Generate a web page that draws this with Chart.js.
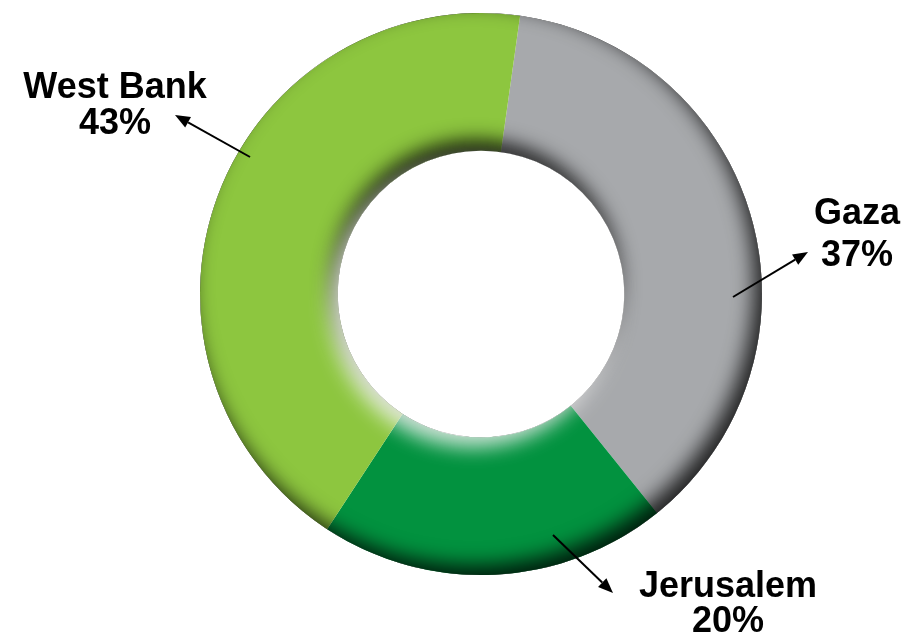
<!DOCTYPE html>
<html>
<head>
<meta charset="utf-8">
<script src="https://cdn.jsdelivr.net/npm/chart.js@4.4.1/dist/chart.umd.min.js"></script>
<style>
  html, body { margin: 0; padding: 0; background: #ffffff; }
  #wrap { width: 909px; height: 641px; position: relative; }
</style>
</head>
<body>
<div id="wrap"><canvas id="c" width="909" height="641"></canvas></div>
<script>
// ---- data ----
const categories = ['Gaza', 'Jerusalem', 'West Bank'];
const shares = [37, 20, 43];
const percentLabels = ['37%', '20%', '43%'];
const sliceColors = ['#a7a9ac', '#02923f', '#8dc63f'];

// ---- annotation layout (label centre, arrow tail, arrow head) ----
const annotations = [
  { idx: 0, x: 857, y1: 214, y2: 256, tail: [733, 297], head: [808, 252] },
  { idx: 1, x: 728, y1: 587, y2: 622, tail: [553, 535], head: [613, 593] },
  { idx: 2, x: 115, y1: 88,  y2: 124, tail: [250, 157], head: [175, 115] }
];

const shadePlugin = {
  id: 'shade',
  afterDatasetsDraw(chart) {
    const arc = chart.getDatasetMeta(0).data[0];
    if (!arc) return;
    const { x, y, innerRadius, outerRadius } = arc.getProps(['x','y','innerRadius','outerRadius'], true);
    const ctx = chart.ctx;
    ctx.save();
    ctx.beginPath();
    ctx.arc(x, y, outerRadius, 0, Math.PI * 2);
    ctx.arc(x, y, innerRadius, 0, Math.PI * 2, true);
    ctx.clip('evenodd');

    // inner shadow (dark, top-left of the hole rim)
    ctx.save();
    ctx.shadowColor = 'rgba(0,0,0,0.9)';
    ctx.shadowBlur = 20;
    ctx.shadowOffsetX = -5;
    ctx.shadowOffsetY = -10;
    ctx.beginPath();
    ctx.arc(x, y, innerRadius, 0, Math.PI * 2);
    ctx.fillStyle = '#000';
    ctx.fill();
    ctx.restore();

    // inner highlight (light, bottom-left of the hole rim)
    ctx.save();
    ctx.shadowColor = 'rgba(255,255,255,0.8)';
    ctx.shadowBlur = 20;
    ctx.shadowOffsetX = -8;
    ctx.shadowOffsetY = 10;
    ctx.beginPath();
    ctx.arc(x, y, innerRadius, 0, Math.PI * 2);
    ctx.fillStyle = '#fff';
    ctx.fill();
    ctx.restore();

    // outer rim darkening (bottom/right)
    ctx.save();
    ctx.shadowColor = 'rgba(0,0,0,0.8)';
    ctx.shadowBlur = 20;
    ctx.shadowOffsetX = -8;
    ctx.shadowOffsetY = -10;
    ctx.beginPath();
    ctx.rect(x - outerRadius * 3, y - outerRadius * 3, outerRadius * 6, outerRadius * 6);
    ctx.arc(x, y, outerRadius, 0, Math.PI * 2, true);
    ctx.fillStyle = '#000';
    ctx.fill('evenodd');
    ctx.restore();

    ctx.restore();
    ctx.save();
    ctx.beginPath();
    ctx.arc(x, y, innerRadius - 0.5, 0, Math.PI * 2);
    ctx.fillStyle = '#fff';
    ctx.fill();
    ctx.restore();
  }
};

const labelPlugin = {
  id: 'callouts',
  afterDraw(chart) {
    const ctx = chart.ctx;
    ctx.save();
    ctx.fillStyle = '#000';
    ctx.strokeStyle = '#000';
    ctx.font = 'bold 36px "Liberation Sans", Arial, sans-serif';
    ctx.textAlign = 'center';
    ctx.textBaseline = 'middle';
    annotations.forEach(a => {
      ctx.fillText(categories[a.idx], a.x, a.y1);
      ctx.fillText(percentLabels[a.idx], a.x, a.y2);
      const [tx, ty] = a.tail, [hx, hy] = a.head;
      const ang = Math.atan2(hy - ty, hx - tx);
      const L = 15, W = 6;
      const bx = hx - L * Math.cos(ang), by = hy - L * Math.sin(ang);
      ctx.lineWidth = 2;
      ctx.beginPath();
      ctx.moveTo(tx, ty);
      ctx.lineTo(bx, by);
      ctx.stroke();
      ctx.beginPath();
      ctx.moveTo(hx, hy);
      ctx.lineTo(bx + W * Math.sin(ang), by - W * Math.cos(ang));
      ctx.lineTo(bx - W * Math.sin(ang), by + W * Math.cos(ang));
      ctx.closePath();
      ctx.fill();
    });
    ctx.restore();
  }
};

new Chart(document.getElementById('c'), {
  type: 'doughnut',
  data: {
    labels: categories,
    datasets: [{
      data: shares,
      backgroundColor: sliceColors,
      borderWidth: 0,
      hoverOffset: 0
    }]
  },
  options: {
    responsive: false,
    animation: false,
    devicePixelRatio: 1,
    rotation: 8,
    cutout: '51%',
    layout: { padding: { left: 200, right: 147, top: 13, bottom: 66 } },
    plugins: { legend: { display: false }, tooltip: { enabled: false } }
  },
  plugins: [shadePlugin, labelPlugin]
});
</script>
</body>
</html>
